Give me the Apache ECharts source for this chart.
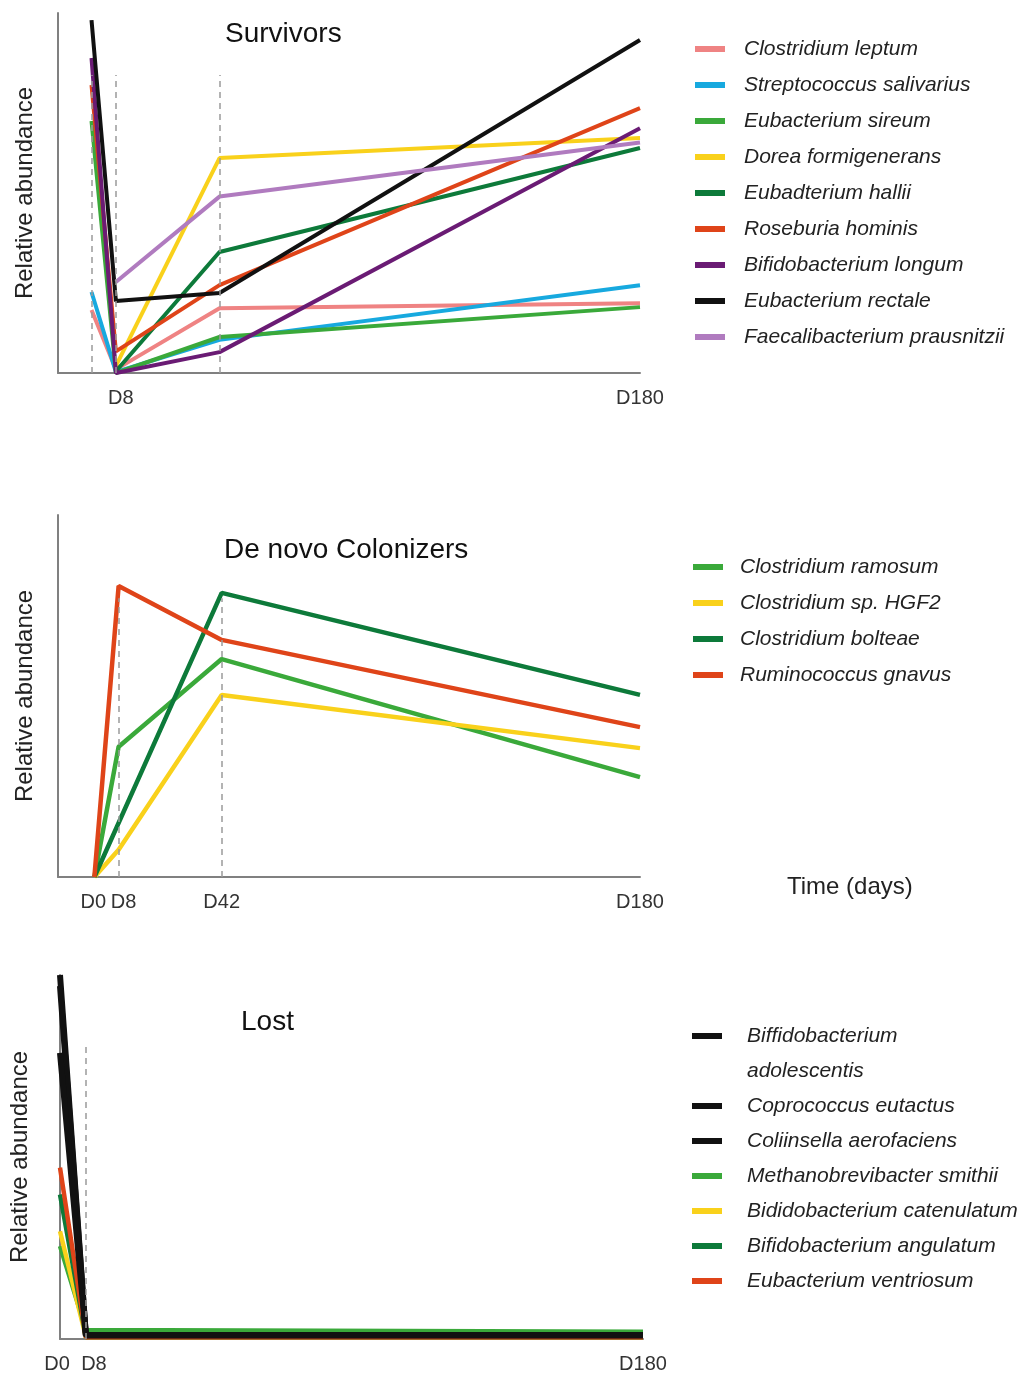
<!DOCTYPE html>
<html>
<head>
<meta charset="utf-8">
<script src="https://cdn.jsdelivr.net/npm/echarts@6/dist/echarts.min.js"></script>
<style>
html,body{margin:0;padding:0;background:#fff;}
#chart{width:1022px;height:1374px;}
</style>
</head>
<body>
<div id="chart"></div>
<script>
// ---- Data (relative abundance, arbitrary 0-100 scale) ----
const days = [0, 8, 42, 180];

const survivorNames = [
  'Clostridium leptum', 'Streptococcus salivarius', 'Eubacterium sireum',
  'Dorea formigenerans', 'Eubadterium hallii', 'Roseburia hominis',
  'Bifidobacterium longum', 'Eubacterium rectale', 'Faecalibacterium prausnitzii'
];
const survivorValues = [
  [17.5, 1, 18, 19.4],
  [22.5, 0.3, 9.2, 24.4],
  [70, 0, 10, 18.3],
  [null, 2, 59.7, 65.3],
  [null, 0.5, 33.6, 62.5],
  [80, 6, 24.4, 73.6],
  [87.5, 0, 5.8, 68],
  [98, 20, 22.2, 92.5],
  [null, 25.3, 49, 64]
];

const colonizerNames = [
  'Clostridium ramosum', 'Clostridium sp. HGF2', 'Clostridium bolteae', 'Ruminococcus gnavus'
];
const colonizerValues = [
  [0, 36, 60.2, 27.6],
  [0, 7.5, 50.3, 35.6],
  [0, null, 78.5, 50.3],
  [0, 80.4, 65.5, 41.4]
];

const lostNames = [
  'Biffidobacterium adolescentis', 'Coprococcus eutactus', 'Coliinsella aerofaciens',
  'Methanobrevibacter smithii', 'Bididobacterium catenulatum', 'Bifidobacterium angulatum',
  'Eubacterium ventriosum'
];
const lostDays = [0, 8, 180];
const lostValues = [
  [100, 1, 1],
  [97, 1, 1],
  [78.6, 1, 1],
  [25.5, 2.5, 2],
  [29.6, 0.5, 0.5],
  [39.7, 0.5, 0.5],
  [47.1, 0.5, 0.5]
];

const survivorGuideDays = [0, 8, 42];
const colonizerGuideDays = [8, 42];
const lostGuideDays = [8];
const survivorTickDays = [8, 180];
const colonizerTickDays = [0, 8, 42, 180];
const lostTickDays = [0, 8, 180];

// ---- Styles ----
const survivorColors = ['#ef8383', '#17a9df', '#3aa93a', '#f9d11b', '#0d7a3a', '#df4419', '#6a1b74', '#111111', '#b07bbf'];
const colonizerColors = ['#3aa93a', '#f9d11b', '#0d7a3a', '#df4419'];
const lostColors = ['#111111', '#111111', '#111111', '#3aa93a', '#f9d11b', '#0d7a3a', '#df4419'];

const FONT = 'Liberation Sans, Arial, sans-serif';
const axisGrey = '#808080';

function pairs(xs, ys) { return xs.map((x, i) => [x, ys[i]]); }

function guideLines(guideDays, top) {
  return {
    silent: true,
    symbol: 'none',
    label: { show: false },
    lineStyle: { type: [6, 5], color: '#9a9a9a', width: 1.5 },
    emphasis: { disabled: true },
    data: guideDays.map(d => [{ coord: [d, 0] }, { coord: [d, top] }])
  };
}

function xAxisCfg(gridIndex, min, ticks, fmt) {
  return {
    type: 'value', gridIndex, min, max: 180,
    splitLine: { show: false },
    axisTick: { show: false },
    axisLine: { show: true, onZero: false, lineStyle: { color: axisGrey, width: 2 } },
    axisLabel: {
      customValues: ticks, margin: 15, fontSize: 20, color: '#333', fontFamily: FONT,
      formatter: fmt,
      rich: {
        l0: { fontSize: 20, color: '#333', fontFamily: FONT, padding: [0, gridIndex === 2 ? 6 : 2, 0, 0] },
        r8: { fontSize: 20, color: '#333', fontFamily: FONT, padding: [0, 0, 0, gridIndex === 2 ? 16 : 10] }
      }
    }
  };
}
function fmt(v) {
  if (v === 0) return '{l0|D0}';
  if (v === 8) return '{r8|D8}';
  return 'D' + v;
}

function yAxisCfg(gridIndex, gap) {
  return {
    type: 'value', gridIndex, min: 0, max: 100,
    splitLine: { show: false }, axisTick: { show: false }, axisLabel: { show: false },
    axisLine: { show: true, onZero: false, lineStyle: { color: axisGrey, width: 2 } },
    name: 'Relative abundance', nameLocation: 'middle', nameGap: gap,
    nameTextStyle: { fontSize: 24, color: '#222', fontFamily: FONT }
  };
}

const series = [];
survivorNames.forEach((n, i) => {
  const s = {
    name: n, type: 'line', xAxisIndex: 0, yAxisIndex: 0,
    data: pairs(days, survivorValues[i]), connectNulls: true,
    symbol: 'none', color: survivorColors[i],
    lineStyle: { width: 4, color: survivorColors[i] }
  };
  if (i === 0) s.markLine = guideLines(survivorGuideDays, 82.8);
  series.push(s);
});
colonizerNames.forEach((n, i) => {
  const s = {
    name: n, type: 'line', xAxisIndex: 1, yAxisIndex: 1,
    data: pairs(days, colonizerValues[i]), connectNulls: true,
    symbol: 'none', color: colonizerColors[i],
    lineStyle: { width: 4.5, color: colonizerColors[i] }
  };
  if (i === 0) s.markLine = guideLines(colonizerGuideDays, 77);
  series.push(s);
});
lostNames.forEach((n, i) => {
  const s = {
    name: n, type: 'line', xAxisIndex: 2, yAxisIndex: 2,
    data: pairs(lostDays, lostValues[i]), connectNulls: true,
    symbol: 'none', color: lostColors[i], z: i < 3 ? 3 : 2,
    lineStyle: { width: i < 3 ? 6 : 4.5, color: lostColors[i] }
  };
  if (i === 0) s.markLine = guideLines(lostGuideDays, 80.8);
  series.push(s);
});

function legendCfg(names, left, top, lh, padLeft, fmtFn) {
  return {
    data: names, orient: 'vertical', left, top, padding: 0, itemGap: 0,
    icon: 'rect', itemWidth: 30, itemHeight: 6, selectedMode: false,
    formatter: fmtFn,
    textStyle: {
      fontSize: 21, fontStyle: 'italic', color: '#222', fontFamily: FONT,
      lineHeight: lh, padding: [0, 0, 0, padLeft]
    }
  };
}

const option = {
  backgroundColor: '#fff',
  animation: false,
  title: [
    { text: 'Survivors', left: 220, top: 15, textStyle: { fontSize: 28, fontWeight: 'normal', color: '#111', fontFamily: FONT } },
    { text: 'De novo Colonizers', left: 219, top: 531, textStyle: { fontSize: 28, fontWeight: 'normal', color: '#111', fontFamily: FONT } },
    { text: 'Lost', left: 236, top: 1003, textStyle: { fontSize: 28, fontWeight: 'normal', color: '#111', fontFamily: FONT } },
    { text: 'Time (days)', left: 782, top: 870, textStyle: { fontSize: 24, fontWeight: 'normal', color: '#222', fontFamily: FONT } }
  ],
  legend: [
    legendCfg(survivorNames, 695, 31, 36, 14),
    legendCfg(colonizerNames, 693, 549, 36, 12),
    legendCfg(lostNames, 692, 983.5, 35, 20, n => n === 'Biffidobacterium adolescentis' ? ' \nBiffidobacterium\nadolescentis' : n)
  ],
  grid: [
    { left: 58, top: 13, width: 582, height: 360 },
    { left: 58, top: 515, width: 582, height: 362 },
    { left: 60, top: 975, width: 583, height: 365 }
  ],
  xAxis: [
    xAxisCfg(0, -11, survivorTickDays, fmt),
    xAxisCfg(1, -12, colonizerTickDays, fmt),
    xAxisCfg(2, 0, lostTickDays, fmt)
  ],
  yAxis: [yAxisCfg(0, 21), yAxisCfg(1, 21), yAxisCfg(2, 28)],
  series
};

const chart = echarts.init(document.getElementById('chart'), null, { renderer: 'canvas' });
chart.setOption(option);
</script>
</body>
</html>
